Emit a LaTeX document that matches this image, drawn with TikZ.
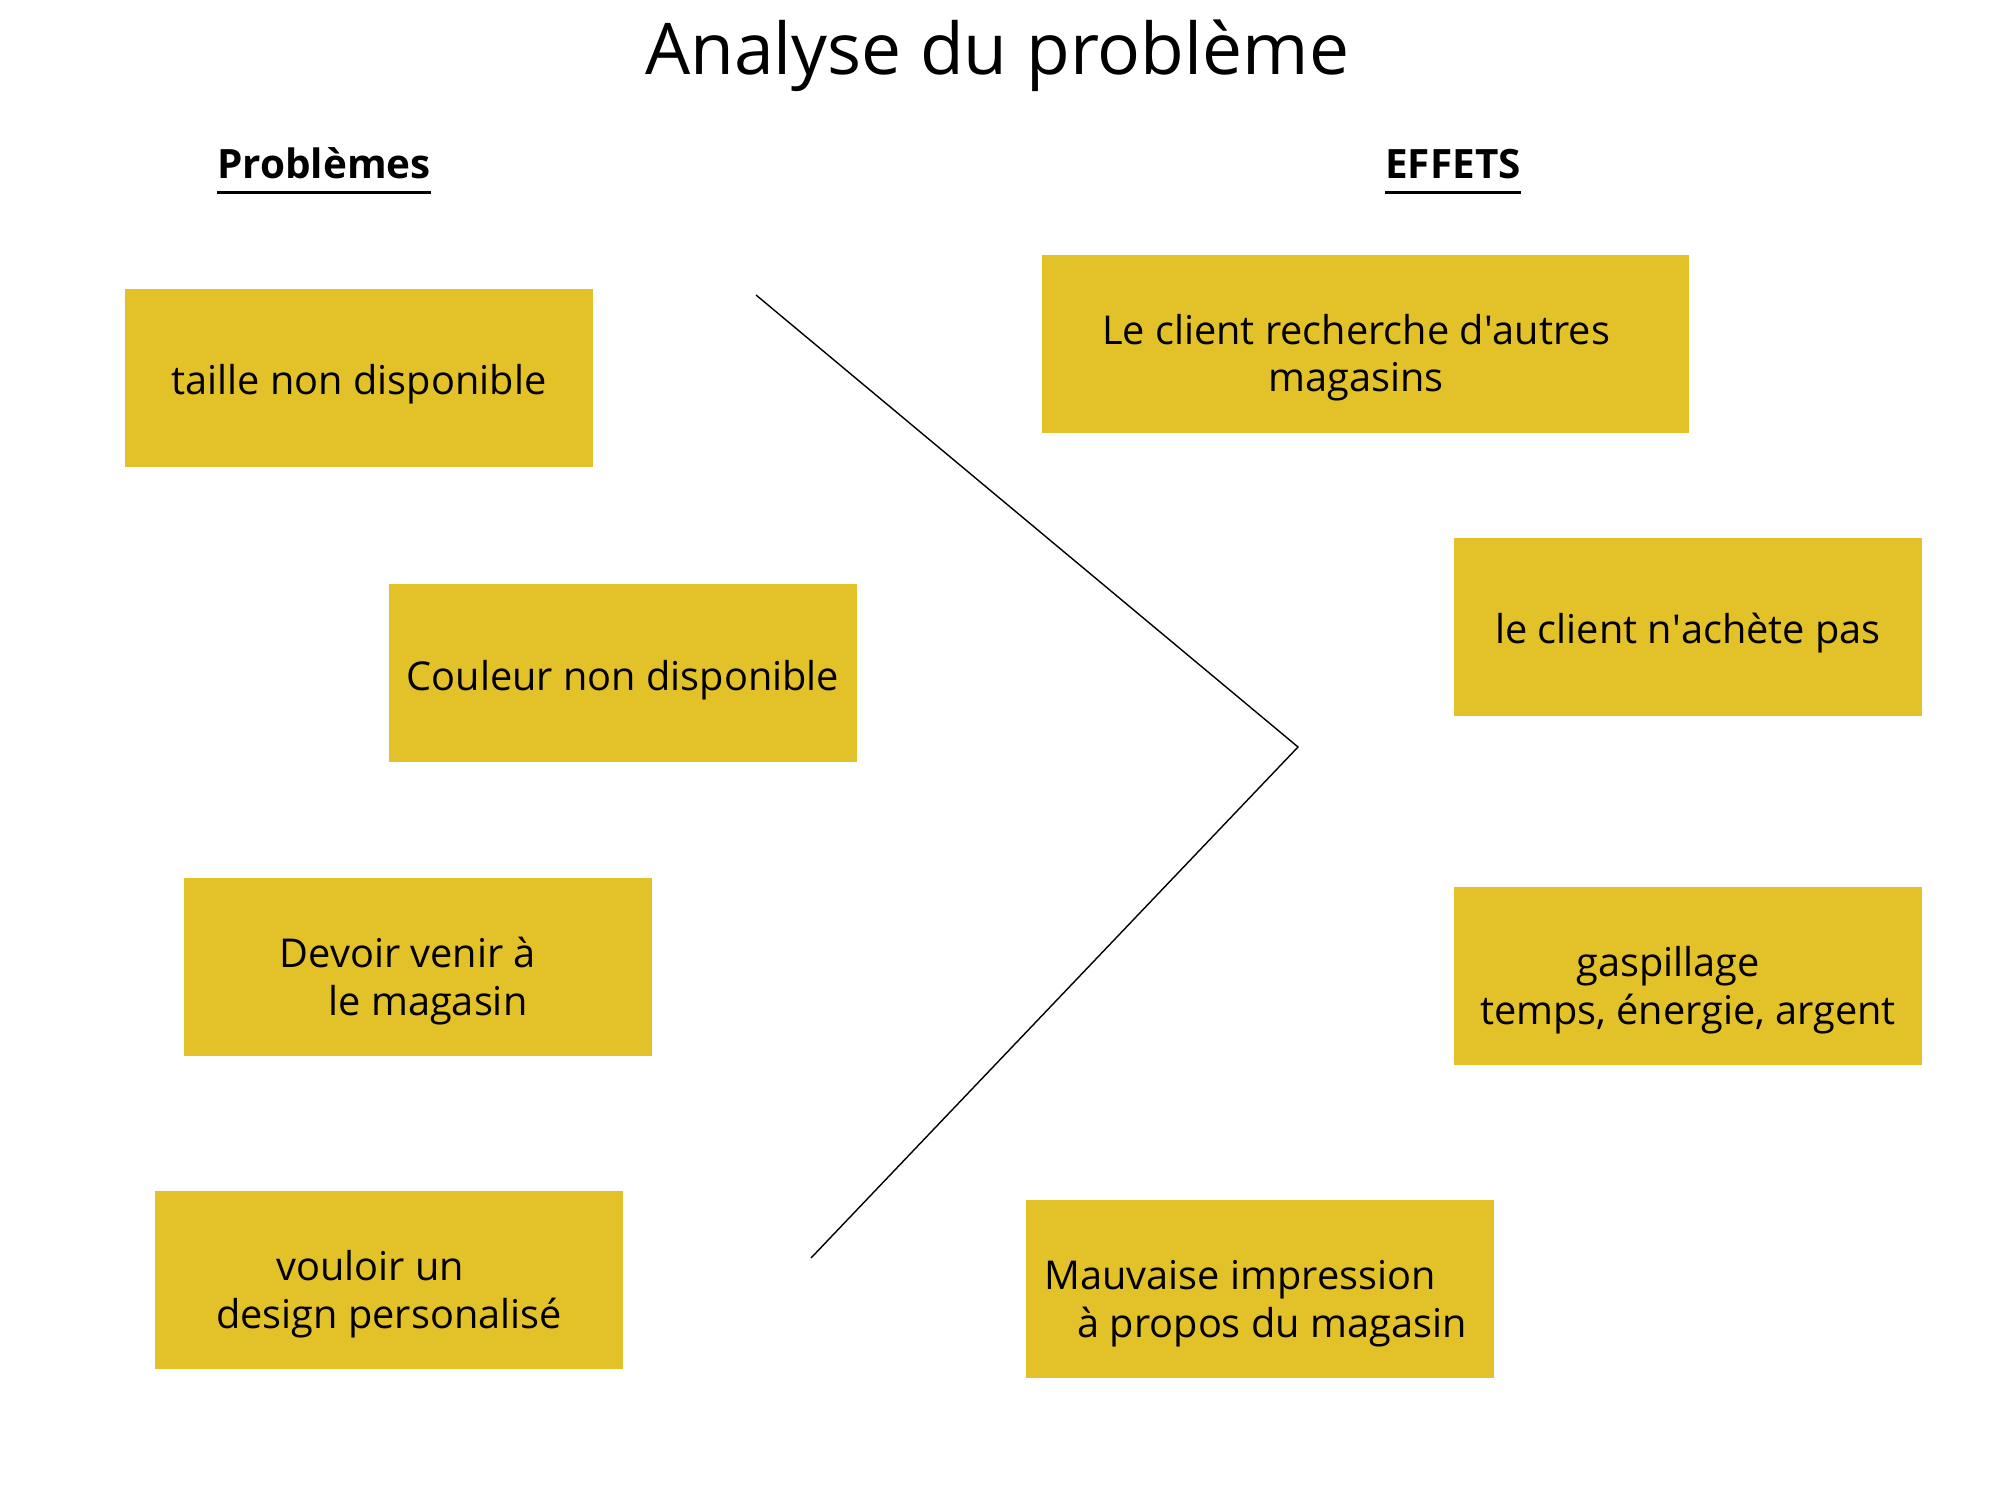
\documentclass[tikz,border=0pt]{standalone}
\usepackage{fontspec}
\setmainfont{Open Sans}
\usetikzlibrary{positioning}
\definecolor{postit}{HTML}{E3C229}
\newcommand{\souligne}[1]{\setbox0=\hbox{#1}\rlap{\rule[-0.15cm]{\wd0}{0.85pt}}\box0}
\tikzstyle{note} = [fill=postit, minimum width=4.68cm, minimum height=1.78cm,
                    inner sep=0pt, align=center, font=\fontsize{11.3}{13.6}\selectfont,
                    text height=0.34cm, text depth=0pt]
\tikzstyle{note2} = [note, text height=0.96cm, text depth=0pt]
\tikzstyle{heading} = [anchor=base, font=\bfseries\fontsize{11.5}{13}\selectfont]

\begin{document}
\begin{tikzpicture}[thin]
  \useasboundingbox (0,0) rectangle (20,15);

  \node[anchor=base, font=\fontsize{20.3}{24}\selectfont] (title) at (9.97,14.25) {Analyse du problème};
  \node[heading] (prob) at (3.24,13.21) {\souligne{Problèmes}};
  \node[heading] (eff)  at (14.53,13.21) {\souligne{EFFETS}};

  % problemes
  \node[note]  (taille)  at (3.59,11.22) {taille non disponible};
  \node[note]  (couleur) at (6.23,8.27)  {Couleur non disponible};
  \node[note2] (venir)   at (4.18,5.33)  {Devoir venir à\hspace*{0.2cm}\\\hspace*{0.2cm}le magasin};
  \node[note2] (design)  at (3.89,2.20)  {vouloir un\hspace*{0.38cm}\\design personalisé};

  % effets
  \node[note2, minimum width=6.47cm] (autres) at (13.65,11.56) {Le client recherche d\textquotesingle autres\hspace*{0.18cm}\\magasins\hspace*{0.18cm}};
  \node[note]  (achete)  at (16.88,8.73) {le client n\textquotesingle achète pas};
  \node[note2] (gaspi)   at (16.88,5.24) {gaspillage\hspace*{0.4cm}\\temps, énergie, argent};
  \node[note2] (impress) at (12.60,2.11) {Mauvaise impression\hspace*{0.4cm}\\\hspace*{0.24cm}à propos du magasin};

  % la fleche
  \coordinate (top) at (7.56,12.05);
  \coordinate (tip) at (12.98,7.53);
  \coordinate (bot) at (8.11,2.42);
  \draw (top) -- (tip) -- (bot);
\end{tikzpicture}
\end{document}
